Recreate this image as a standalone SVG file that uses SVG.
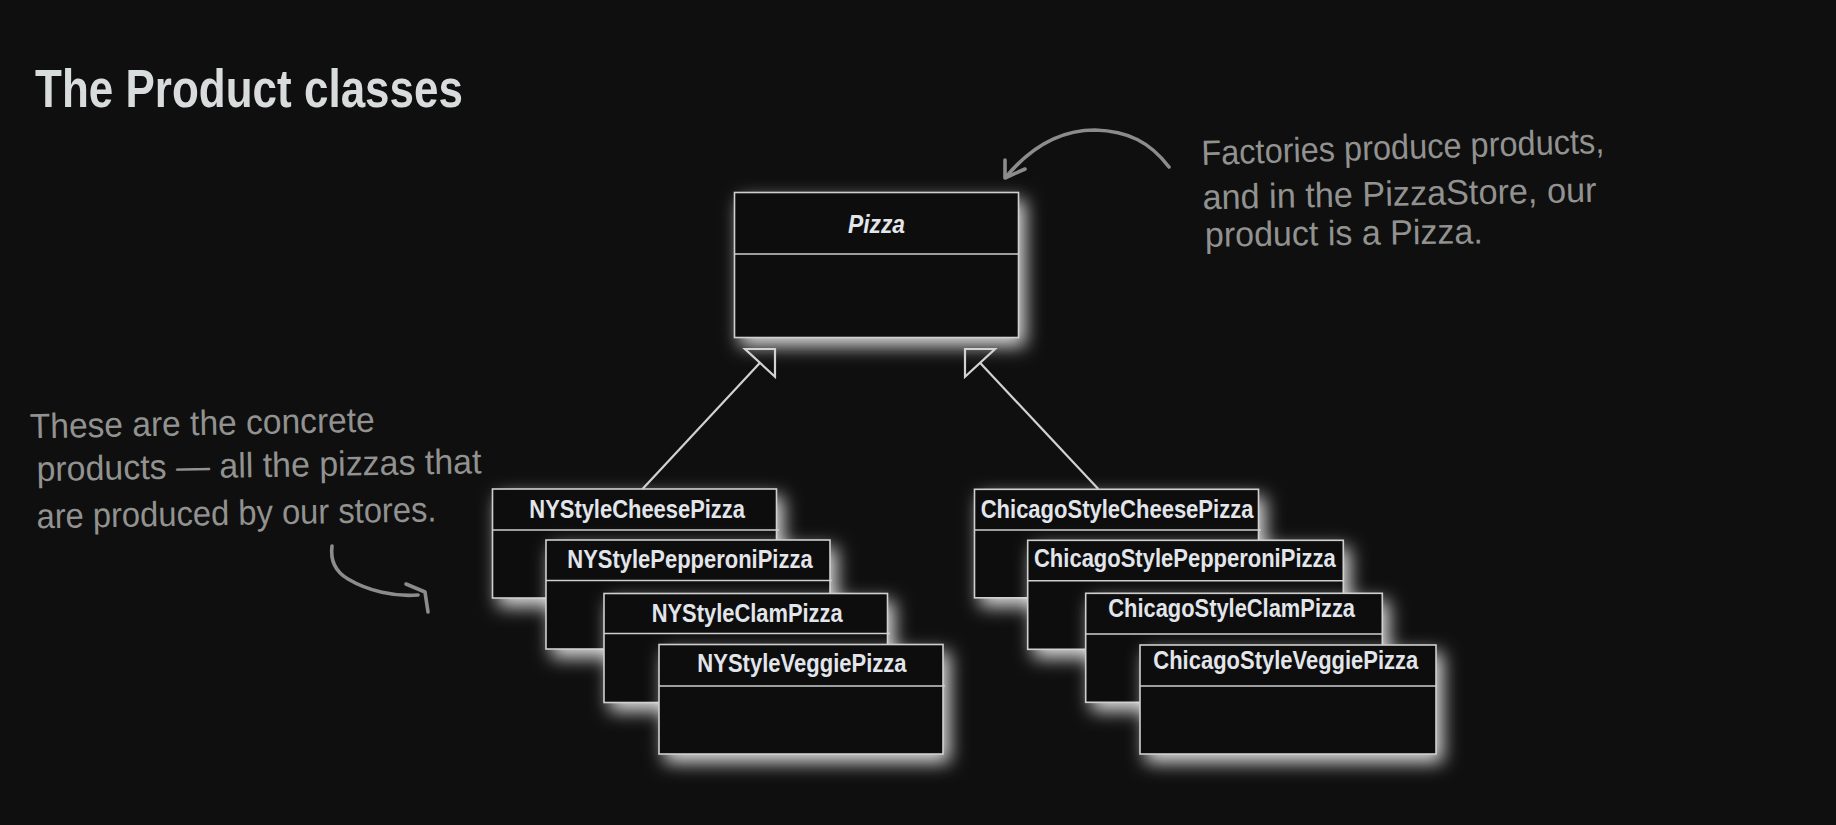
<svg xmlns="http://www.w3.org/2000/svg" width="1836" height="825" viewBox="0 0 1836 825">
<defs>
<filter id="glow" x="-25%" y="-35%" width="155%" height="185%">
<feGaussianBlur in="SourceAlpha" stdDeviation="9" result="b"/>
<feOffset in="b" dx="6" dy="8" result="o"/>
<feFlood flood-color="#ffffff" flood-opacity="0.85"/>
<feComposite in2="o" operator="in" result="s"/>
<feMerge><feMergeNode in="s"/><feMergeNode in="SourceGraphic"/></feMerge>
</filter>
<style>
.box{fill:#0e0e0e;stroke:#cfcfcf;stroke-width:1.6}
.div{stroke:#cfcfcf;stroke-width:1.6;fill:none}
.cls{font-family:"Liberation Sans",Arial,sans-serif;font-weight:bold;font-size:26px;fill:#e2e5ea}
.note{font-family:"Liberation Sans",Arial,sans-serif;font-size:35px;fill:#929290}
.conn{stroke:#d2d2d2;stroke-width:2.2;fill:none}
.hand{stroke:#8c8c8c;stroke-width:3.6;fill:none;stroke-linecap:round;stroke-linejoin:round}
</style>
</defs>
<rect width="1836" height="825" fill="#0f0f0f"/>
<text x="35" y="107" font-family="'Liberation Sans',Arial,sans-serif" font-weight="bold" font-size="54" fill="#d9dcdc" textLength="428" lengthAdjust="spacingAndGlyphs">The Product classes</text>

<g id="pizza">
<rect class="box" x="734.5" y="192.5" width="284" height="145" filter="url(#glow)"/>
<line class="div" x1="734.5" y1="254" x2="1018.5" y2="254"/>
<text class="cls" x="876.5" y="233" text-anchor="middle" font-style="italic" font-size="25" textLength="57" lengthAdjust="spacingAndGlyphs">Pizza</text>
</g>

<g id="nycheese">
<rect class="box" x="492.5" y="489" width="284" height="109" filter="url(#glow)"/>
<line class="div" x1="492.5" y1="530" x2="779" y2="530"/>
<text class="cls" x="529.3" y="518.3" textLength="215.7" lengthAdjust="spacingAndGlyphs">NYStyleCheesePizza</text>
</g>
<g id="nypepperoni">
<rect class="box" x="546" y="540" width="284" height="109" filter="url(#glow)"/>
<line class="div" x1="546" y1="580.5" x2="832" y2="580.5"/>
<text class="cls" x="567.3" y="568.3" textLength="245.3" lengthAdjust="spacingAndGlyphs">NYStylePepperoniPizza</text>
</g>
<g id="nyclam">
<rect class="box" x="604" y="593.5" width="283.5" height="109" filter="url(#glow)"/>
<line class="div" x1="604" y1="633.5" x2="890" y2="633.5"/>
<text class="cls" x="651.7" y="621.7" textLength="191" lengthAdjust="spacingAndGlyphs">NYStyleClamPizza</text>
</g>
<g id="nyveggie">
<rect class="box" x="659" y="644.5" width="284" height="109.5" filter="url(#glow)"/>
<line class="div" x1="659" y1="686" x2="945" y2="686"/>
<text class="cls" x="697.3" y="671.7" textLength="209.3" lengthAdjust="spacingAndGlyphs">NYStyleVeggiePizza</text>
</g>

<g id="chicheese">
<rect class="box" x="974.5" y="489.3" width="284" height="108.5" filter="url(#glow)"/>
<line class="div" x1="974.5" y1="530" x2="1261" y2="530"/>
<text class="cls" x="980.7" y="518.3" textLength="272.7" lengthAdjust="spacingAndGlyphs">ChicagoStyleCheesePizza</text>
</g>
<g id="chipepperoni">
<rect class="box" x="1027.7" y="540.3" width="315.6" height="109" filter="url(#glow)"/>
<line class="div" x1="1027.7" y1="580.7" x2="1343.3" y2="580.7"/>
<text class="cls" x="1034" y="567.3" textLength="301.7" lengthAdjust="spacingAndGlyphs">ChicagoStylePepperoniPizza</text>
</g>
<g id="chiclam">
<rect class="box" x="1085.7" y="593.3" width="296.6" height="109" filter="url(#glow)"/>
<line class="div" x1="1085.7" y1="634" x2="1382.3" y2="634"/>
<text class="cls" x="1108.3" y="616.7" textLength="246.7" lengthAdjust="spacingAndGlyphs">ChicagoStyleClamPizza</text>
</g>
<g id="chiveggie">
<rect class="box" x="1140" y="645" width="296" height="109" filter="url(#glow)"/>
<line class="div" x1="1140" y1="686" x2="1436" y2="686"/>
<text class="cls" x="1153.3" y="669" textLength="265" lengthAdjust="spacingAndGlyphs">ChicagoStyleVeggiePizza</text>
</g>

<g id="connectors">
<line class="conn" x1="642.5" y1="489" x2="760" y2="362.8"/>
<polygon class="conn" points="775,349 745,349 775,376.7"/>
<line class="conn" x1="1098.3" y1="489" x2="980" y2="362.8"/>
<polygon class="conn" points="965,349 995,349 965,376.7"/>
</g>

<g id="note-factories">
<path class="hand" d="M1169 167 C1150 142 1128 131 1095 130 C1060 130 1030 148 1006 177"/>
<path class="hand" d="M1005 160 L1005 178 L1025 169"/>
<text class="note" x="1201.7" y="165" transform="rotate(-1.7 1201.7 165)" textLength="403" lengthAdjust="spacingAndGlyphs">Factories produce products,</text>
<text class="note" x="1202.7" y="209.3" transform="rotate(-1.1 1202.7 209.3)" textLength="394" lengthAdjust="spacingAndGlyphs">and in the PizzaStore, our</text>
<text class="note" x="1205" y="246.7" transform="rotate(-0.7 1205 246.7)" textLength="278" lengthAdjust="spacingAndGlyphs">product is a Pizza.</text>
</g>

<g id="note-concrete">
<text class="note" x="30" y="438.3" transform="rotate(-1.1 30 438.3)" textLength="345" lengthAdjust="spacingAndGlyphs">These are the concrete</text>
<text class="note" x="36.7" y="481" transform="rotate(-1 36.7 481)" textLength="445" lengthAdjust="spacingAndGlyphs">products — all the pizzas that</text>
<text class="note" x="36.7" y="528.3" transform="rotate(-1 36.7 528.3)" textLength="400" lengthAdjust="spacingAndGlyphs">are produced by our stores.</text>
<path class="hand" d="M332 546 C330 562 336 572 348 579 C368 591 395 597 418 595"/>
<path class="hand" d="M406 584 L425 592 L428 612"/>
</g>
</svg>
